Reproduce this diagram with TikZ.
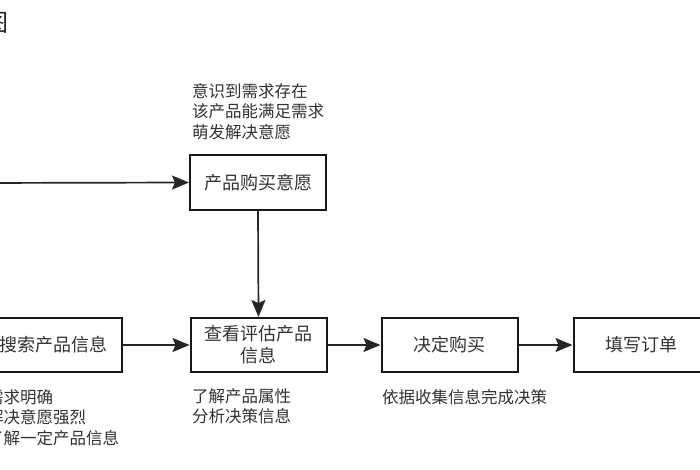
\documentclass[tikz,border=0pt]{standalone}
\usepackage{fontspec}
\newfontfamily\cjk{Noto Sans CJK SC}
\usetikzlibrary{arrows.meta}

\begin{document}
\begin{tikzpicture}[x=1pt,y=-1pt,font=\cjk\fontsize{18}{22}\selectfont,
    box/.style={draw=black!90, line width=2pt, minimum width=136pt, minimum height=54pt,
                inner sep=2pt, align=center, text=black!80},
    note/.style={anchor=north west, align=left, inner sep=0pt, text=black!80,
                 font=\cjk\fontsize{16.5}{20.5}\selectfont},
    flow/.style={line width=1.7pt, draw=black!85, -{Stealth[length=17pt,width=14pt,inset=3pt]}}]
    \useasboundingbox (0,0) rectangle (700,470);
    \clip (0,0) rectangle (700,470);
    \fill[white] (0,0) rectangle (700,470);
    % title, cut at the left edge
    \node[text=black!85, font=\cjk\fontsize{24}{28}\selectfont, inner sep=0pt] (title) at (-3.5,23) {图};
    % boxes
    \node[box] (buy)    at (258,182.5) {产品购买意愿};
    \node[box] (search) at (53.5,345)  {搜索产品信息};
    \node[box] (view)   at (258.5,345) {查看评估产品\\信息};
    \node[box] (decide) at (449.5,345) {决定购买};
    \node[box] (fill)   at (641.5,345) {填写订单};
    % notes
    \node[note] (buynote)    at (192,83)  {意识到需求存在\\该产品能满足需求\\萌发解决意愿};
    \node[note] (searchnote) at (-13,389) {需求明确\\解决意愿强烈\\了解一定产品信息};
    \node[note] (viewnote)   at (192,388) {了解产品属性\\分析决策信息};
    \node[note] (decidenote) at (382,389) {依据收集信息完成决策};
    % connectors
    \coordinate (start) at (-20,183);
    \draw[flow] (start) -- (buy.west);
    \draw[flow] (buy.south) -- (view.north);
    \draw[flow] (search.east) -- (view.west);
    \draw[flow] (view.east) -- (decide.west);
    \draw[flow] (decide.east) -- (fill.west);
\end{tikzpicture}
\end{document}
